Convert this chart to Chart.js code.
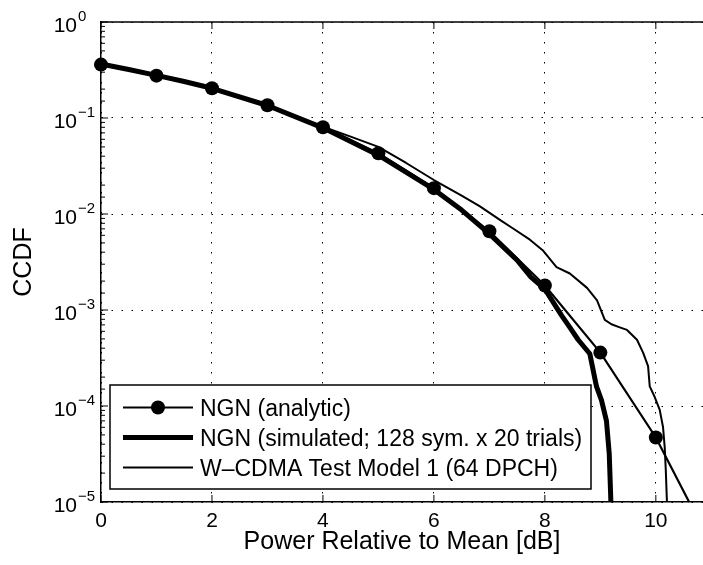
<!DOCTYPE html>
<html><head><meta charset="utf-8">
<script src="https://cdn.jsdelivr.net/npm/chart.js@4.4.0/dist/chart.umd.min.js"></script>
<style>html,body{margin:0;padding:0;background:#fff;overflow:hidden}canvas{display:block}</style>
</head><body>
<canvas id="c" width="703" height="565"></canvas>
<script>
// ---- data ----
const seriesNames = [
  'NGN (analytic)',
  'NGN (simulated; 128 sym. x 20 trials)',
  'W\u2013CDMA Test Model 1 (64 DPCH)'
];
const analyticX = [0, 1, 2, 3, 4, 5, 6, 7, 8, 9, 10, 10.6];
const analyticY = [0.36, 0.276, 0.204, 0.136, 0.080, 0.043, 0.0186, 0.0066, 0.0018, 0.00036, 0.000047, 0.00001];

const simX = [0, 0.5, 1, 1.5, 2, 3, 4, 5, 6, 6.5, 7, 7.5, 7.75, 8, 8.3, 8.45, 8.6, 8.81, 8.93, 9.02, 9.11, 9.16, 9.19];
const simY = [0.365, 0.32, 0.278, 0.24, 0.204, 0.135, 0.079, 0.041, 0.018, 0.011, 0.0062, 0.0033, 0.0022, 0.00165, 0.00088, 0.00066, 0.00049, 0.00035, 0.00016, 0.000115, 0.00007, 0.000032, 0.00001];

const wcdmaX = [0, 1, 2, 3, 4, 4.5, 5, 5.5, 6, 6.5, 6.83, 7.19, 7.42, 7.73, 7.96, 8.21, 8.45, 8.76, 8.94, 9.08, 9.2, 9.35, 9.48, 9.66, 9.77, 9.86, 9.89, 9.98, 10.07, 10.13, 10.16, 10.18, 10.2];
const wcdmaY = [0.365, 0.278, 0.204, 0.136, 0.081, 0.064, 0.050, 0.034, 0.0226, 0.0155, 0.012, 0.0087, 0.0071, 0.0054, 0.0042, 0.0028, 0.0024, 0.0017, 0.00126, 0.00079, 0.00071, 0.00066, 0.00062, 0.00049, 0.00036, 0.00026, 0.00016, 0.000124, 0.000091, 0.00006, 0.000037, 0.000021, 0.00001];

const xTickValues = [0, 2, 4, 6, 8, 10];
const yTickExponents = [0, -1, -2, -3, -4, -5];
const xTitle = 'Power Relative to Mean [dB]';
const yTitle = 'CCDF';

// ---- drawing ----
const FONT = '"Liberation Sans", Arial, Helvetica, sans-serif';
const toPoints = (xs, ys) => xs.map((x, i) => ({x: x, y: ys[i]}));
const isMajor = v => Math.abs(Math.log10(v) - Math.round(Math.log10(v))) < 1e-9;

const decor = {
  id: 'decor',
  afterDatasetsDraw(chart) {
    const {ctx, chartArea: a, scales: {x, y}} = chart;
    const seg = (x1, y1, x2, y2) => { ctx.beginPath(); ctx.moveTo(x1, y1); ctx.lineTo(x2, y2); ctx.stroke(); };
    ctx.save();
    ctx.strokeStyle = '#000';
    ctx.lineWidth = 1.5;
    seg(a.left, a.top, a.right, a.top);
    ctx.lineWidth = 1;
    x.ticks.forEach(t => {
      const px = x.getPixelForValue(t.value);
      seg(px, a.bottom, px, a.bottom - 7);
      seg(px, a.top, px, a.top + 7);
    });
    y.ticks.forEach(t => {
      const py = y.getPixelForValue(t.value);
      seg(a.left, py, a.left + (isMajor(t.value) ? 7 : 4), py);
    });
    // legend
    const bx1 = a.left + 9, by1 = a.bottom - 117, bx2 = a.left + 490, by2 = a.bottom - 13;
    ctx.fillStyle = '#fff';
    ctx.fillRect(bx1, by1, bx2 - bx1, by2 - by1);
    ctx.lineWidth = 1.5;
    ctx.strokeRect(bx1, by1, bx2 - bx1, by2 - by1);
    chart.data.datasets.forEach((ds, i) => {
      const ry = by1 + 22.5 + i * 30;
      ctx.lineWidth = ds.borderWidth;
      ctx.strokeStyle = '#000';
      seg(bx1 + 13, ry, bx1 + 83, ry);
      if (ds.legendMarker) {
        ctx.fillStyle = '#000';
        ctx.beginPath(); ctx.arc(bx1 + 48, ry, 7, 0, Math.PI * 2); ctx.fill();
      }
      ctx.fillStyle = '#000';
      ctx.font = '23px ' + FONT;
      ctx.textAlign = 'left';
      ctx.textBaseline = 'alphabetic';
      ctx.fillText(ds.label, bx1 + 90, ry + 8);
    });
    ctx.restore();
  },
  afterDraw(chart) {
    const {ctx, scales: {y}, chartArea: a} = chart;
    ctx.save();
    ctx.fillStyle = '#000';
    ctx.textBaseline = 'alphabetic';
    yTickExponents.forEach(e => {
      const py = y.getPixelForValue(Math.pow(10, e));
      ctx.font = '21px ' + FONT;
      ctx.textAlign = 'right';
      ctx.fillText('10', a.left - 24, py + 10);
      ctx.font = '15px ' + FONT;
      ctx.textAlign = 'left';
      ctx.fillText(e === 0 ? '0' : '\u2212' + Math.abs(e), a.left - 23, py - 1);
    });
    ctx.restore();
  }
};

new Chart(document.getElementById('c'), {
  type: 'scatter',
  data: {
    datasets: [
      { label: seriesNames[0], data: toPoints(analyticX, analyticY), showLine: true,
        borderColor: '#000', backgroundColor: '#000', borderWidth: 2.2, tension: 0,
        pointRadius: c => Number.isInteger(c.raw.x) ? 7 : 0, pointBorderWidth: 0,
        pointHoverRadius: 7, clip: false, legendMarker: true },
      { label: seriesNames[1], data: toPoints(simX, simY), showLine: true,
        borderColor: '#000', backgroundColor: '#000', borderWidth: 5, tension: 0,
        pointRadius: 0, pointHoverRadius: 0, borderJoinStyle: 'round', clip: false },
      { label: seriesNames[2], data: toPoints(wcdmaX, wcdmaY), showLine: true,
        borderColor: '#000', backgroundColor: '#000', borderWidth: 2, tension: 0,
        pointRadius: 0, pointHoverRadius: 0, borderJoinStyle: 'round', clip: false }
    ]
  },
  options: {
    responsive: false,
    animation: false,
    devicePixelRatio: 1,
    layout: { autoPadding: false, padding: { top: 22, left: 0, right: 0, bottom: 0 } },
    plugins: { legend: { display: false }, tooltip: { enabled: false } },
    scales: {
      x: {
        type: 'linear', position: 'bottom', min: 0, max: 10.85,
        afterBuildTicks: s => { s.ticks = xTickValues.map(v => ({value: v})); },
        afterFit: s => { s.height = 63; },
        ticks: { font: { size: 21, family: FONT }, color: '#000', padding: 7, maxRotation: 0, autoSkip: false, includeBounds: false },
        grid: { color: '#000', lineWidth: 1, drawTicks: false },
        border: { display: true, color: '#000', width: 1.5, dash: [1.5, 8.5] },
        title: { display: true, text: xTitle, color: '#000', font: { size: 25, family: FONT }, padding: { top: 0, bottom: 8 } }
      },
      y: {
        type: 'logarithmic', position: 'left', min: 1e-5, max: 1,
        afterFit: s => { s.width = 101; },
        ticks: { display: false },
        grid: { color: c => (c.tick && isMajor(c.tick.value)) ? '#000' : 'rgba(0,0,0,0)', lineWidth: 1, drawTicks: false },
        border: { display: true, color: '#000', width: 1.5, dash: [1.5, 8.5] },
        title: { display: true, text: yTitle, color: '#000', font: { size: 25, family: FONT }, padding: { top: 9, bottom: 0 } }
      }
    }
  },
  plugins: [decor]
});
</script>
</body></html>
